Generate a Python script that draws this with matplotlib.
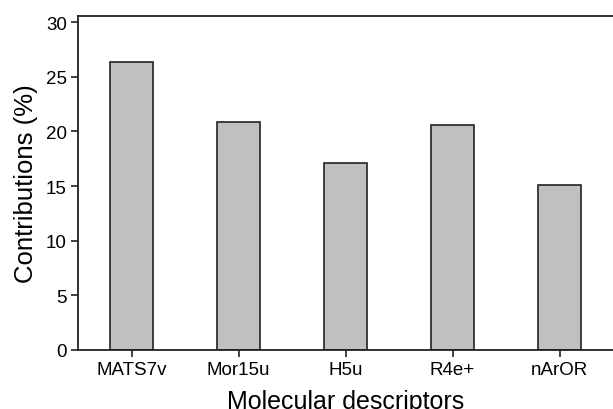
import matplotlib
matplotlib.use("Agg")
import matplotlib.pyplot as plt

descriptors = ["MATS7v", "Mor15u", "H5u", "R4e+", "nArOR"]
contributions = [26.3, 20.9, 17.1, 20.6, 15.1]

plt.rcParams["font.family"] = ["Liberation Sans", "DejaVu Sans"]

fig = plt.figure(figsize=(6.13, 4.10), dpi=100)
ax = fig.add_axes([78 / 613, 1 - 351 / 410, 535 / 613, 334 / 410])

x = range(len(descriptors))
ax.bar(x, contributions, width=0.4, color="#c0c0c0", edgecolor="#222222", linewidth=1.2)

ax.set_xlim(-0.5, 4.5)
ax.set_ylim(0, 30.55)
ax.set_yticks([0, 5, 10, 15, 20, 25, 30])
ax.set_xticks(list(x))
ax.set_xticklabels(descriptors)
ax.tick_params(axis="both", labelsize=13.5, length=5, width=1.2, direction="out",
               color="#222222", pad=3)

for side in ["left", "bottom", "top"]:
    ax.spines[side].set_linewidth(1.3)
    ax.spines[side].set_color("#222222")
ax.spines["right"].set_visible(False)

ax.set_ylabel("Contributions (%)", fontsize=18.5, labelpad=6)
ax.set_xlabel("Molecular descriptors", fontsize=18, labelpad=8)

fig.savefig("out.png", dpi=100)
